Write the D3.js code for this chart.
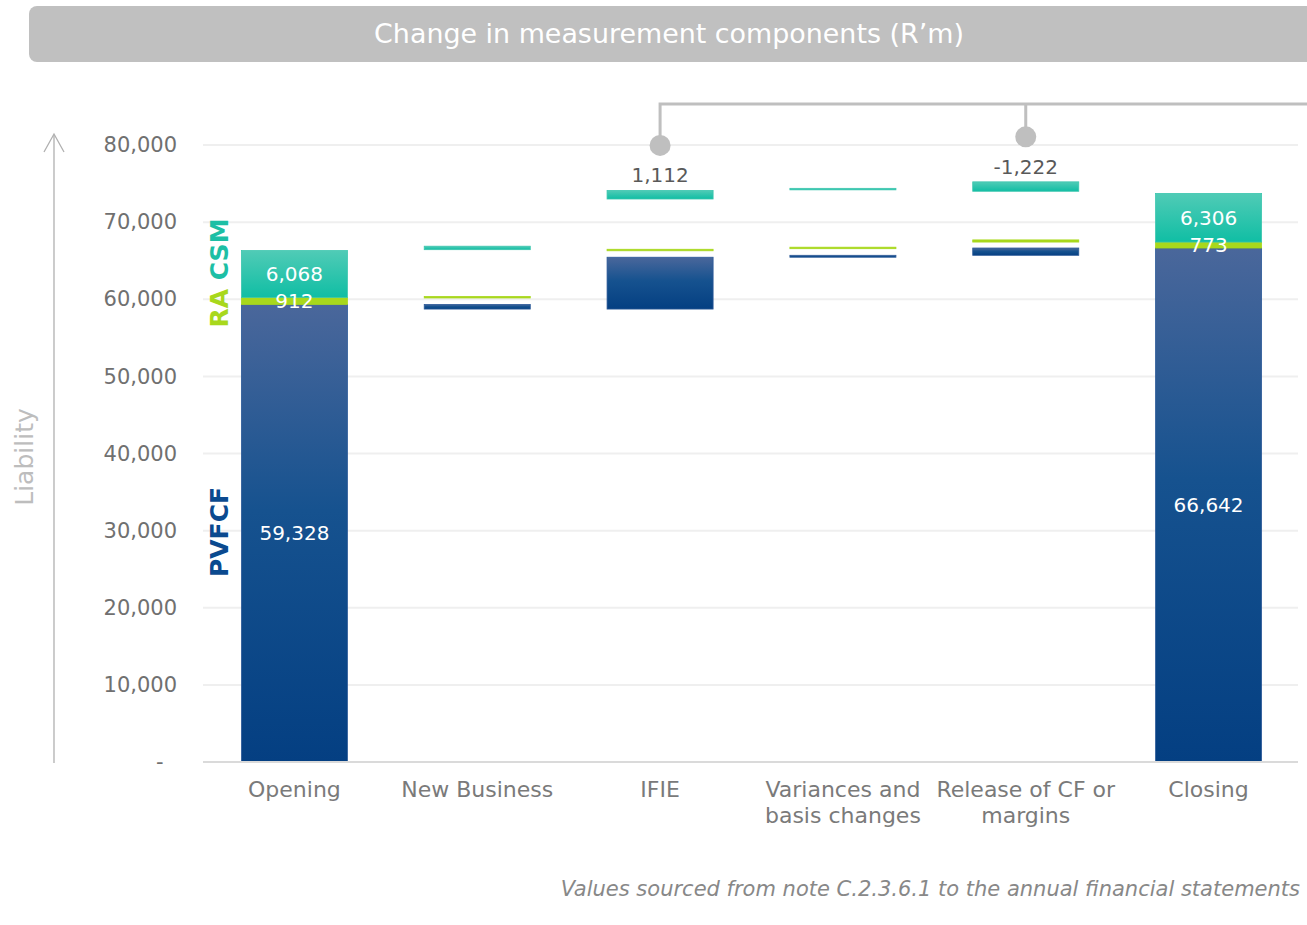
<!DOCTYPE html>
<html>
<head>
<meta charset="utf-8">
<script src="https://cdn.jsdelivr.net/npm/d3@7"></script>
<style>
  body { margin: 0; background: #fff; }
  text { font-family: "DejaVu Sans", "Noto Sans", sans-serif; }
</style>
</head>
<body>
<div id="chart"></div>
<script>
// chart values (R'm)
var categories = ['Opening', 'New Business', 'IFIE', 'Variances and basis changes', 'Release of CF or margins', 'Closing'];
var categoryLines = [['Opening'], ['New Business'], ['IFIE'], ['Variances and', 'basis changes'], ['Release of CF or', 'margins'], ['Closing']];
// first and last are totals, the rest are movements
var pvfcf = [59328, -600, 6720, 250, 944, 66642];
var ra = [912, 120, -80, 100, -279, 773];
var csm = [6068, 450, 1112, -102, -1222, 6306];
var yTicks = [0, 10000, 20000, 30000, 40000, 50000, 60000, 70000, 80000];
var calloutSteps = ['IFIE', 'Release of CF or margins'];

var W = 1307, H = 925;
var fmt = d3.formatLocale({decimal: '.', thousands: ',', grouping: [3], currency: ['', ''], minus: '-'}).format(',');

var svg = d3.select('#chart').append('svg')
   .attr('width', W)
   .attr('height', H);

var defs = svg.append('defs');
function grad(id, stops){
   var g = defs.append('linearGradient').attr('id', id)
      .attr('x1', 0).attr('y1', 0).attr('x2', 0).attr('y2', 1);
   stops.forEach(function(s){
      g.append('stop').attr('offset', s[0]).attr('stop-color', s[1]);
   });
}
grad('gBlue', [[0, '#4a679b'], [0.45, '#16528f'], [1, '#043f82']]);
grad('gTeal', [[0, '#50cbb6'], [1, '#10bea4']]);

// title bar
svg.append('rect')
   .attr('x', 29).attr('y', 6)
   .attr('width', W).attr('height', 56)
   .attr('rx', 8)
   .attr('fill', '#c0c0c0');
svg.append('text')
   .attr('x', 669).attr('y', 43)
   .attr('text-anchor', 'middle')
   .attr('fill', '#fff')
   .attr('font-size', 26.9)
   .text('Change in measurement components (R\u2019m)');

var x = d3.scaleBand()
   .domain(categories)
   .range([203, 1300])
   .paddingInner(0.42)
   .paddingOuter(0.21);

var y = d3.scaleLinear()
   .domain([0, 80000])
   .range([762, 145]);

// gridlines
svg.append('g').selectAll('line')
   .data(yTicks.filter(function(d){ return d > 0; }))
   .enter().append('line')
   .attr('x1', 203).attr('x2', 1298)
   .attr('y1', function(d){ return y(d); })
   .attr('y2', function(d){ return y(d); })
   .attr('stroke', '#efefef')
   .attr('stroke-width', 2);

// y axis labels
var yAxis = d3.axisLeft(y)
   .tickValues(yTicks)
   .tickSize(0)
   .tickPadding(0)
   .tickFormat(function(d){ return d === 0 ? '-\u00a0\u00a0' : fmt(d); });
var ya = svg.append('g')
   .attr('transform', 'translate(177,0)')
   .call(yAxis);
ya.select('.domain').remove();
ya.selectAll('text')
   .attr('font-size', 21)
   .attr('fill', '#707070')
   .attr('font-family', '"DejaVu Sans", sans-serif');

// arrow axis
svg.append('line')
   .attr('x1', 54).attr('x2', 54)
   .attr('y1', 763).attr('y2', 135)
   .attr('stroke', '#b0b0b0').attr('stroke-width', 1.3);
svg.append('path')
   .attr('d', 'M44,152L54,134L64,152')
   .attr('fill', 'none')
   .attr('stroke', '#b0b0b0').attr('stroke-width', 1.3);

svg.append('text')
   .attr('transform', 'translate(33,457) rotate(-90)')
   .attr('text-anchor', 'middle')
   .attr('font-size', 25)
   .attr('fill', '#bdbdbd')
   .text('Liability');

// build segments for the stacked waterfall
var segs = [], labels = [];
var p = 0, r = 0, c = 0;
categories.forEach(function(cat, i){
   var last = i === categories.length - 1;
   if(i === 0 || last){
      p = pvfcf[i]; r = ra[i]; c = csm[i];
      segs.push({cat: cat, k: 'p', lo: 0, hi: p});
      segs.push({cat: cat, k: 'r', lo: p, hi: p + r});
      segs.push({cat: cat, k: 'c', lo: p + r, hi: p + r + c});
      labels.push({cat: cat, v: p, mid: p / 2});
      labels.push({cat: cat, v: r, mid: p + r / 2});
      labels.push({cat: cat, v: c, mid: p + r + c / 2});
   } else {
      var p2 = p + pvfcf[i], r2 = r + ra[i], c2 = csm[i] + c;
      var b1 = Math.max(p, p2);
      var b2 = b1 + Math.max(r, r2);
      segs.push({cat: cat, k: 'p', lo: Math.min(p, p2), hi: b1});
      segs.push({cat: cat, k: 'r', lo: b1 + Math.min(r, r2), hi: b2});
      segs.push({cat: cat, k: 'c', lo: b2 + Math.min(c, c2), hi: b2 + Math.max(c, c2)});
      if(calloutSteps.indexOf(cat) >= 0){
         labels.push({cat: cat, v: csm[i], top: b2 + Math.max(c, c2), callout: true});
      }
      p = p2; r = r2; c = c2;
   }
});

var fills = {p: 'url(#gBlue)', r: '#a8d81c', c: 'url(#gTeal)'};
var strokes = {p: '#2c5a98', r: '#a8d81c', c: '#3cc6ae'};

svg.append('g').selectAll('rect')
   .data(segs).enter()
   .append('rect')
   .attr('x', function(d){ return x(d.cat); })
   .attr('width', x.bandwidth())
   .attr('y', function(d){ return y(d.hi); })
   .attr('height', function(d){ return Math.max(1.5, y(d.lo) - y(d.hi)); })
   .attr('fill', function(d){ return fills[d.k]; })
   .attr('stroke', function(d){ return strokes[d.k]; })
   .attr('stroke-width', 0.8);

// baseline
svg.append('line')
   .attr('x1', 203).attr('x2', 1298)
   .attr('y1', y(0)).attr('y2', y(0))
   .attr('stroke', '#dadada').attr('stroke-width', 2);

// labels inside total bars
svg.append('g').selectAll('text')
   .data(labels.filter(function(d){ return !d.callout; })).enter()
   .append('text')
   .attr('x', function(d){ return x(d.cat) + x.bandwidth() / 2; })
   .attr('y', function(d){ return y(d.mid); })
   .attr('dy', '0.36em')
   .attr('text-anchor', 'middle')
   .attr('font-size', 20)
   .attr('fill', '#fff')
   .text(function(d){ return fmt(d.v); });

// callouts
var co = labels.filter(function(d){ return d.callout; });
var coX = co.map(function(d){ return x(d.cat) + x.bandwidth() / 2; });
svg.append('path')
   .attr('d', 'M' + coX[0] + ',' + (y(co[0].top) - 44) + 'V104H' + W
      + 'M' + coX[1] + ',104V' + (y(co[1].top) - 45))
   .attr('fill', 'none')
   .attr('stroke', '#bfbfbf').attr('stroke-width', 3);
svg.append('g').selectAll('circle')
   .data(co).enter()
   .append('circle')
   .attr('cx', function(d){ return x(d.cat) + x.bandwidth() / 2; })
   .attr('cy', function(d){ return y(d.top) - 45; })
   .attr('r', 10.5)
   .attr('fill', '#bfbfbf');
svg.append('g').selectAll('text')
   .data(co).enter()
   .append('text')
   .attr('x', function(d){ return x(d.cat) + x.bandwidth() / 2; })
   .attr('y', function(d){ return y(d.top) - 8; })
   .attr('text-anchor', 'middle')
   .attr('font-size', 20)
   .attr('fill', '#595959')
   .text(function(d){ return fmt(d.v); });

// category labels
var cl = svg.append('g').selectAll('text')
   .data(categories).enter()
   .append('text')
   .attr('x', function(d){ return x(d) + x.bandwidth() / 2; })
   .attr('y', 797)
   .attr('text-anchor', 'middle')
   .attr('font-size', 22)
   .attr('fill', '#7a7a7a');
cl.selectAll('tspan')
   .data(function(d, i){ return categoryLines[i]; }).enter()
   .append('tspan')
   .attr('x', function(){ var c = this.parentNode.__data__; return x(c) + x.bandwidth() / 2; })
   .attr('dy', function(d, i){ return i ? 26 : 0; })
   .text(function(d){ return d; });

// series names
svg.append('text')
   .attr('transform', 'translate(228,532) rotate(-90)')
   .attr('text-anchor', 'middle')
   .attr('font-size', 25)
   .attr('font-weight', 'bold')
   .attr('fill', '#0b4a8f')
   .text('PVFCF');
var rc = svg.append('text')
   .attr('transform', 'translate(228,273) rotate(-90)')
   .attr('text-anchor', 'middle')
   .attr('font-size', 25)
   .attr('font-weight', 'bold');
rc.append('tspan').attr('fill', '#a8d81c').text('RA ');
rc.append('tspan').attr('fill', '#1dbfa5').text('CSM');

// footnote
svg.append('text')
   .attr('x', 1300).attr('y', 896)
   .attr('text-anchor', 'end')
   .attr('font-size', 21)
   .attr('font-style', 'italic')
   .attr('fill', '#888')
   .text('Values sourced from note C.2.3.6.1 to the annual financial statements');
</script>
</body>
</html>
